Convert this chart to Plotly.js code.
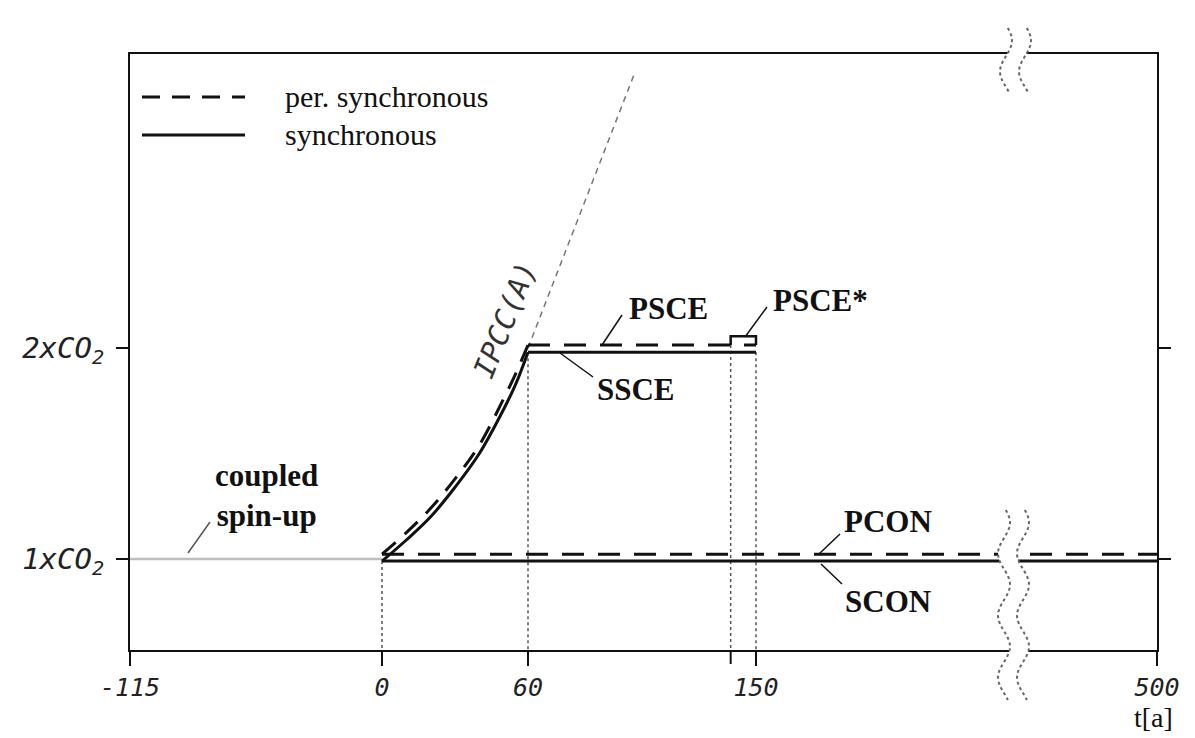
<!DOCTYPE html>
<html><head><meta charset="utf-8">
<script src="https://cdn.plot.ly/plotly-3.0.1.min.js"></script>
<style>html,body{margin:0;padding:0;background:#fff}#chart{width:1195px;height:738px}</style>
</head><body><div id="chart"></div>
<script>
// ---------------- data (years, CO2 multiples) ----------------
const spinUpYears = [-115, 0];
const spinUpLevel = [1.0, 1.0];
const rampYears   = [0, 10, 20, 30, 40, 50, 55, 60];
const syncRamp    = [0.99, 1.09, 1.20, 1.34, 1.50, 1.71, 1.83, 1.98];
const perRamp     = [1.023, 1.125, 1.24, 1.38, 1.54, 1.76, 1.88, 2.014];
const sceYears    = [60, 150];
const ssceLevel   = [1.98, 1.98];
const psceLevel   = [2.014, 2.014];
const psceStarYears = [140, 140, 150, 150];
const psceStarLevel = [2.014, 2.056, 2.056, 2.014];
const conYears    = [0, 500];
const sconLevel   = [0.99, 0.99];
const pconLevel   = [1.023, 1.023];
const ipccYears   = [60, 102];
const ipccLevel   = [2.0, 3.30];
const markerYears = [0, 60, 140, 150];
const markerTops  = [0.99, 1.98, 2.014, 1.98];
const xTickYears  = [-115, 0, 60, 150, 500];
const xTickText   = ['-115', '0', '60', '150', '500'];
const xMinorTickYears = [140];
const yTickVals   = [1, 2];
const yTickText   = ['1xCO<sub>2</sub>', '2xCO<sub>2</sub>'];

// ---------------- schematic (broken) time axis ----------------
const axisYears = [-115, 0, 60, 150, 500];
const axisUnits = [-252, 0, 146, 374, 775];
function xs(t) {
  for (let i = 0; i < axisYears.length - 1; i++) {
    if (t <= axisYears[i + 1] || i === axisYears.length - 2) {
      const f = (t - axisYears[i]) / (axisYears[i + 1] - axisYears[i]);
      return axisUnits[i] + f * (axisUnits[i + 1] - axisUnits[i]);
    }
  }
}
const X = arr => arr.map(xs);

// ---------------- layout geometry ----------------
const L = 130, R = 38, T = 54, B = 88, W = 1195, H = 738;
const PW = W - L - R, PH = H - T - B;
const yRange = [1 - (650 - 559) / 211, 1 + (559 - 54) / 211];
const px = x => (x - L) / PW;
const py = y => (H - B - y) / PH;

const black = '#111';
const traces = [];
traces.push({x: X(spinUpYears), y: spinUpLevel, mode: 'lines', line: {color: '#bdbdbd', width: 2.5}});
traces.push({x: X(ipccYears), y: ipccLevel, mode: 'lines', line: {color: '#777', width: 1.5, dash: '6px,5px'}});
markerYears.forEach((yr, i) => {
  traces.push({x: X([yr, yr]), y: [markerTops[i], yRange[0]], mode: 'lines',
    line: {color: '#555', width: 1.5, dash: '3px,3px'}});
});
traces.push({x: X(conYears), y: sconLevel, mode: 'lines', line: {color: black, width: 3}});
traces.push({x: X(conYears), y: pconLevel, mode: 'lines', line: {color: black, width: 3, dash: '22px,14px'}});
traces.push({x: X(rampYears), y: syncRamp, mode: 'lines', line: {color: black, width: 3, shape: 'spline', smoothing: 1}});
traces.push({x: X(sceYears), y: ssceLevel, mode: 'lines', line: {color: black, width: 3}});
traces.push({x: X(rampYears), y: perRamp, mode: 'lines',
  line: {color: black, width: 3, dash: '18px,12px', shape: 'spline', smoothing: 1}});
traces.push({x: X(sceYears), y: psceLevel, mode: 'lines', line: {color: black, width: 3, dash: '22px,14px'}});
traces.push({x: X(psceStarYears), y: psceStarLevel, mode: 'lines', line: {color: black, width: 2.5}});

// ---------------- decorations ----------------
function wavePts(cx, y0, y1, amp, period, phase) {
  const pts = [];
  for (let y = y0; y <= y1; y += 2) pts.push([cx + amp * Math.sin(2 * Math.PI * (y - y0) / period + phase), y]);
  return pts;
}
function pathOf(pts) {
  return pts.map((p, i) => (i ? 'L' : 'M') + px(p[0]).toFixed(5) + ',' + py(p[1]).toFixed(5)).join(' ');
}
const shapes = [];
function breakMark(y0, y1, cxL, cxR, phase) {
  const a = wavePts(cxL, y0, y1, 6, 62, phase);
  const b = wavePts(cxR, y0, y1, 6, 62, phase);
  const poly = a.concat(b.slice().reverse());
  shapes.push({type: 'path', xref: 'paper', yref: 'paper', path: pathOf(poly) + ' Z',
    fillcolor: 'white', line: {width: 0}, layer: 'above'});
  shapes.push({type: 'path', xref: 'paper', yref: 'paper', path: pathOf(a),
    line: {color: '#666', width: 2, dash: 'dot'}, layer: 'above'});
  shapes.push({type: 'path', xref: 'paper', yref: 'paper', path: pathOf(b),
    line: {color: '#666', width: 2, dash: 'dot'}, layer: 'above'});
}
breakMark(28, 93, 1006, 1025, 0.3);
breakMark(510, 700, 1004, 1023, 0.3);

// unlabeled tick at year 140
xMinorTickYears.forEach(yr => shapes.push({type: 'line', xref: 'x', yref: 'paper',
  x0: xs(yr), x1: xs(yr), y0: 0, y1: -14 / PH, line: {color: black, width: 2}}));

function seg(x0, y0, x1, y1, opts) {
  shapes.push(Object.assign({type: 'line', xref: 'paper', yref: 'paper',
    x0: px(x0), y0: py(y0), x1: px(x1), y1: py(y1), line: {color: black, width: 1.5}}, opts || {}));
}
// legend
seg(142, 97, 245, 97, {line: {color: black, width: 3, dash: '18px,12px'}});
seg(142, 135, 245, 135, {line: {color: black, width: 3}});
// leader lines
seg(622, 315, 602, 345);
seg(767, 307, 745, 337);
seg(560, 353, 593, 377);
seg(840, 534, 819, 554);
seg(821, 564, 842, 584);
seg(210, 522, 188, 553, {line: {color: '#555', width: 1.5}});

const serif = 'Liberation Serif, Times New Roman, serif';
const mono = 'DejaVu Sans Mono, monospace';
function ann(text, x, y, size, opts) {
  return Object.assign({text, xref: 'paper', yref: 'paper', x: px(x), y: py(y), showarrow: false,
    xanchor: 'center', yanchor: 'middle', font: {family: serif, size, color: black}}, opts || {});
}
const annotations = [
  ann('per. synchronous', 283, 97, 30, {xanchor: 'left'}),
  ann('synchronous', 283, 134, 30, {xanchor: 'left'}),
  ann('<b>PSCE</b>', 668, 308, 31),
  ann('<b>PSCE*</b>', 820, 300, 31),
  ann('<b>SSCE</b>', 636, 389, 31),
  ann('<b>PCON</b>', 888, 521, 31),
  ann('<b>SCON</b>', 888, 601, 31),
  ann('<b>coupled</b><br><b>spin-up</b>', 266, 495, 31),
  ann('t[a]', 1153, 717, 28),
  ann('IPCC(A)', 505, 320, 29, {textangle: -68, font: {family: mono, size: 29, color: '#333', style: 'italic'}})
];

const layout = {
  width: W, height: H, margin: {l: L, r: R, t: T, b: B},
  paper_bgcolor: '#fff', plot_bgcolor: '#fff', showlegend: false,
  xaxis: {range: [axisUnits[0], axisUnits[axisUnits.length - 1]], tickvals: X(xTickYears), ticktext: xTickText,
    ticks: 'outside', ticklen: 14, tickwidth: 2, tickcolor: black, showgrid: false, zeroline: false,
    showline: true, linecolor: black, linewidth: 2, mirror: true,
    tickfont: {family: mono, size: 25, color: '#222', style: 'italic'}, tickangle: 0, fixedrange: true},
  yaxis: {range: yRange, tickvals: yTickVals, ticktext: yTickText,
    ticks: 'outside', ticklen: 12, tickwidth: 2, tickcolor: black, showgrid: false, zeroline: false,
    showline: true, linecolor: black, linewidth: 2, mirror: 'ticks',
    tickfont: {family: mono, size: 29, color: '#222', style: 'italic'}, ticklabelstandoff: 6, fixedrange: true},
  shapes, annotations
};
Plotly.newPlot('chart', traces, layout, {displayModeBar: false, staticPlot: true});
</script></body></html>
